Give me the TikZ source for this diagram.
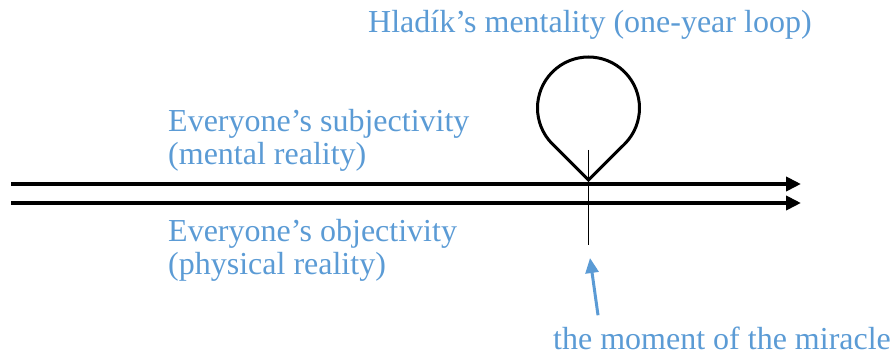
\documentclass[tikz,border=0pt]{standalone}
\usepackage{fontspec}
\setmainfont{Liberation Serif}
\usepackage{xcolor}
\usepackage{tikz}
\usetikzlibrary{arrows.meta,calc}
\definecolor{labelblue}{HTML}{5B9BD5}

\begin{document}
\begin{tikzpicture}[x=1pt,y=1pt,
  lbl/.style={labelblue,inner sep=0pt,align=left,anchor=base west,font=\fontsize{32}{33}\selectfont},
  timeline/.style={line width=4pt,-{Triangle[length=15pt,width=14pt]}}]
  \useasboundingbox (0,0) rectangle (892,356);
  % time lines
  \coordinate (subjstart) at (11,172);
  \coordinate (subjend) at (801,172);
  \coordinate (objstart) at (11,153);
  \coordinate (objend) at (801,153);
  \draw[timeline] (subjstart) -- (subjend);
  \draw[timeline] (objstart) -- (objend);
  % the moment
  \coordinate (momtop) at (588.5,206);
  \coordinate (mombot) at (588.5,111);
  \draw[line width=1.3pt] (momtop) -- (mombot);
  % one-year loop
  \coordinate (tip) at (588.5,176);
  \coordinate (loopc) at (588.5,248);
  \draw[line width=3pt,line join=miter] (tip) -- ($(loopc)+(-45:51)$)
    arc[start angle=-45,end angle=225,radius=51] -- cycle;
  % labels
  \node[lbl] (hladik) at (368,323) {Hladík’s mentality (one-year loop)};
  \node[lbl] (subj) at (168,191) {Everyone’s subjectivity\\(mental reality)};
  \node[lbl] (obj) at (168,81) {Everyone’s objectivity\\(physical reality)};
  \node[lbl] (miracle) at (553,6) {the moment of the miracle};
  \coordinate (mirtip) at (590,98);
  \draw[labelblue,line width=3pt,-{Triangle[length=15pt,width=13pt]}] ($(miracle.north)+(-124,12)$) -- (mirtip);
\end{tikzpicture}
\end{document}
